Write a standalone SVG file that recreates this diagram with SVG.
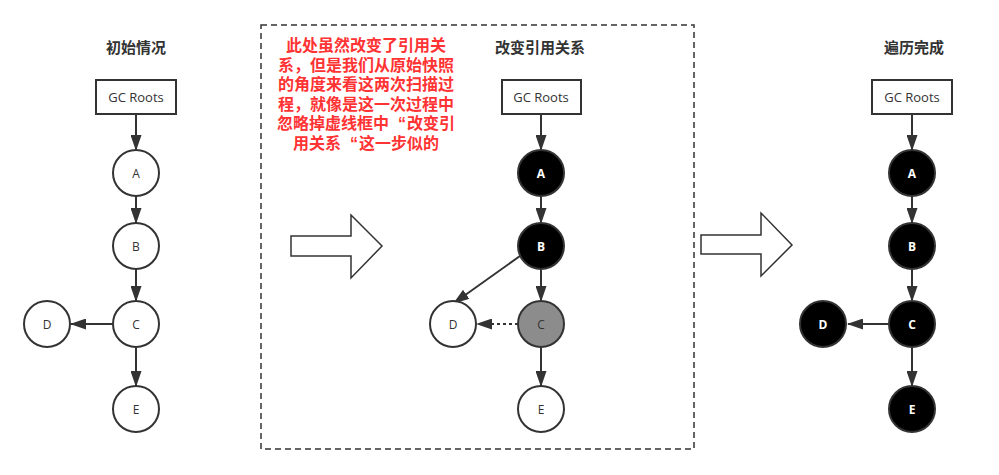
<svg xmlns="http://www.w3.org/2000/svg" width="999" height="475" viewBox="0 0 999 475">
<style>
.t{font-family:"Noto Sans CJK SC","Noto Sans",sans-serif;font-size:15px;font-weight:bold;fill:#333;text-anchor:middle}
.red{font-family:"Liberation Sans","Noto Sans CJK SC",sans-serif;font-size:16px;font-weight:bold;fill:#FF3333;text-anchor:middle}
.box{fill:#fff;stroke:#333;stroke-width:2}
.n{stroke:#333;stroke-width:2}
.w{fill:#fff}
.b{fill:#000}
.g{fill:#8c8c8c}
.lb{font-family:"Open Sans","Noto Sans",sans-serif;font-size:12px;fill:#333;text-anchor:middle;dominant-baseline:central}
.gc{font-size:13px}
.lw{font-family:"Open Sans","Noto Sans",sans-serif;font-size:12px;font-weight:bold;fill:#fff;text-anchor:middle;dominant-baseline:central}
.e{stroke:#333;stroke-width:2;fill:none;marker-end:url(#ah)}
.big{fill:#fff;stroke:#333;stroke-width:1.5}
</style>
<defs>
<marker id="ah" viewBox="0 0 16 11" refX="15" refY="5.5" markerWidth="8" markerHeight="5.5" markerUnits="strokeWidth" orient="auto">
<path d="M0,0 L16,5.5 L0,11 z" fill="#333"/>
</marker>
</defs>
<rect width="999" height="475" fill="#fff"/>

<text class="t" x="136" y="53">初始情况</text>
<text class="t" x="540" y="53">改变引用关系</text>
<text class="t" x="914" y="53">遍历完成</text>

<rect x="261" y="25" width="433" height="424" fill="none" stroke="#333" stroke-width="1.5" stroke-dasharray="6,4"/>
<g id="note">
<text class="red" x="366" y="51">此处虽然改变了引用关</text>
<text class="red" x="366" y="70.6">系，但是我们从原始快照</text>
<text class="red" x="366" y="90.2">的角度来看这两次扫描过</text>
<text class="red" x="366" y="109.8">程，就像是这一次过程中</text>
<text class="red" x="366" y="129.4">忽略掉虚线框中<tspan dx="9">“</tspan><tspan dx="1">改变引</tspan></text>
<text class="red" x="366" y="149">用关系<tspan dx="9">“</tspan><tspan dx="1">这一步似的</tspan></text>
</g>

<g id="bigarrow1"><path class="big" d="M291,236 H351 V215 L382,246 L351,278 V256 H291 Z"/></g>
<g id="bigarrow2"><path class="big" d="M701,235 H761 V213 L792,245 L761,276 V254 H701 Z"/></g>

<g id="connectors">
<line class="e" x1="136" y1="114" x2="136" y2="150"/>
<line class="e" x1="136" y1="196" x2="136" y2="223"/>
<line class="e" x1="136" y1="269" x2="136" y2="301"/>
<line class="e" x1="113" y1="324" x2="71" y2="324"/>
<line class="e" x1="136" y1="347" x2="136" y2="386"/>

<line class="e" x1="541" y1="114" x2="541" y2="150"/>
<line class="e" x1="541" y1="196" x2="541" y2="223"/>
<line class="e" x1="541" y1="269" x2="541" y2="301"/>
<line class="e" x1="520" y1="256" x2="454" y2="303"/>
<line class="e" x1="518" y1="324" x2="477" y2="324" stroke-dasharray="3,3"/>
<line class="e" x1="541" y1="347" x2="541" y2="386"/>

<line class="e" x1="912" y1="114" x2="912" y2="150"/>
<line class="e" x1="912" y1="196" x2="912" y2="223"/>
<line class="e" x1="912" y1="269" x2="912" y2="301"/>
<line class="e" x1="889" y1="324" x2="848" y2="324"/>
<line class="e" x1="912" y1="347" x2="912" y2="386"/>
</g>

<g id="gc1"><rect class="box" x="96" y="80" width="80" height="34"/><text class="lb gc" x="136" y="97">GC Roots</text></g>
<g id="a1"><circle class="n w" cx="136" cy="173" r="23"/><text class="lb" x="136" y="173">A</text></g>
<g id="b1"><circle class="n w" cx="136" cy="246" r="23"/><text class="lb" x="136" y="246">B</text></g>
<g id="c1"><circle class="n w" cx="136" cy="324" r="23"/><text class="lb" x="136" y="324">C</text></g>
<g id="d1"><circle class="n w" cx="47" cy="324" r="23"/><text class="lb" x="47" y="324">D</text></g>
<g id="e1"><circle class="n w" cx="136" cy="409" r="23"/><text class="lb" x="136" y="409">E</text></g>

<g id="gc2"><rect class="box" x="502" y="80" width="79" height="34"/><text class="lb gc" x="541" y="97">GC Roots</text></g>
<g id="a2"><circle class="n b" cx="541" cy="173" r="23"/><text class="lw" x="541" y="173">A</text></g>
<g id="b2"><circle class="n b" cx="541" cy="246" r="23"/><text class="lw" x="541" y="246">B</text></g>
<g id="c2"><circle class="n g" cx="541" cy="324" r="23"/><text class="lb" x="541" y="324">C</text></g>
<g id="d2"><circle class="n w" cx="453" cy="324" r="23"/><text class="lb" x="453" y="324">D</text></g>
<g id="e2"><circle class="n w" cx="541" cy="409" r="23"/><text class="lb" x="541" y="409">E</text></g>

<g id="gc3"><rect class="box" x="872" y="80" width="80" height="34"/><text class="lb gc" x="912" y="97">GC Roots</text></g>
<g id="a3"><circle class="n b" cx="912" cy="173" r="23"/><text class="lw" x="912" y="173">A</text></g>
<g id="b3"><circle class="n b" cx="912" cy="246" r="23"/><text class="lw" x="912" y="246">B</text></g>
<g id="c3"><circle class="n b" cx="912" cy="324" r="23"/><text class="lw" x="912" y="324">C</text></g>
<g id="d3"><circle class="n b" cx="823" cy="324" r="23"/><text class="lw" x="823" y="324">D</text></g>
<g id="e3"><circle class="n b" cx="912" cy="409" r="23"/><text class="lw" x="912" y="409">E</text></g>
</svg>
